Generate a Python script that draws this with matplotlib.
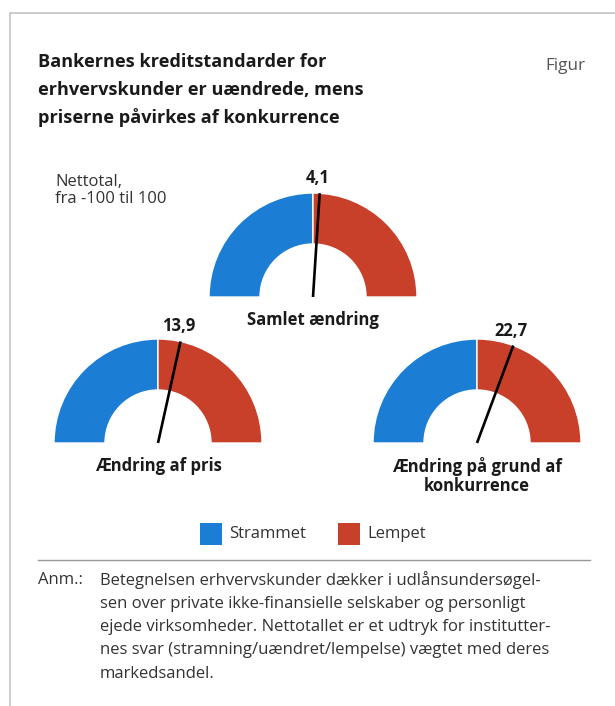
import matplotlib
matplotlib.use("Agg")
import matplotlib.pyplot as plt
from matplotlib.patches import Wedge
import numpy as np

plt.rcParams['font.family'] = ['Open Sans', 'DejaVu Sans']

# net balances, scale -100 (tightened) .. 100 (eased)
gauge_names = ["Samlet ændring", "Ændring af pris", "Ændring på grund af\nkonkurrence"]
net_values = [4.1, 13.9, 22.7]
legend_labels = ["Strammet", "Lempet"]

title_lines = ["Bankernes kreditstandarder for",
               "erhvervskunder er uændrede, mens",
               "priserne påvirkes af konkurrence"]
unit_lines = ["Nettotal,", "fra -100 til 100"]
note_lines = ["Betegnelsen erhvervskunder dækker i udlånsundersøgel-",
              "sen over private ikke-finansielle selskaber og personligt",
              "ejede virksomheder. Nettotallet er et udtryk for institutter-",
              "nes svar (stramning/uændret/lempelse) vægtet med deres",
              "markedsandel."]

BLUE = "#1c7dd4"
RED = "#c8402a"
DARK = "#1a1a1a"
GREY = "#333333"
W, H = 615, 706

# gauge centres (pixels from top-left), outer and inner radius
centres = [(313, 297), (158, 443), (477, 443)]
R_OUT, R_IN = 104, 53

fig = plt.figure(figsize=(W / 100, H / 100), dpi=100)
ax = fig.add_axes([0, 0, 1, 1])
ax.set_xlim(0, W)
ax.set_ylim(0, H)
ax.set_aspect('equal')
ax.axis('off')


def Y(y):
    return H - y


# frame
ax.plot([10, 10, W], [0, Y(13), Y(13)], color="#c4c4c4", lw=1.2)

for i, line in enumerate(title_lines):
    ax.text(38, Y(62 + 28 * i), line, fontsize=13.1, fontweight='bold',
            color=DARK, va='center', ha='left')
ax.text(545, Y(66), "Figur", fontsize=12.3, color="#555555", va='center')
for i, line in enumerate(unit_lines):
    ax.text(55, Y(182 + 17 * i), line, fontsize=12, color=GREY, va='center')

for (cx, cy), name, val in zip(centres, gauge_names, net_values):
    ax.add_patch(Wedge((cx, Y(cy)), R_OUT, 90, 180, width=R_OUT - R_IN,
                       facecolor=BLUE, edgecolor='white', lw=1.0))
    ax.add_patch(Wedge((cx, Y(cy)), R_OUT, 0, 90, width=R_OUT - R_IN,
                       facecolor=RED, edgecolor='white', lw=1.0))
    ang = np.radians(90 - val * 0.9)
    tx = cx + R_OUT * np.cos(ang)
    ty = Y(cy) + R_OUT * np.sin(ang)
    ax.plot([cx, tx], [Y(cy), ty], color='black', lw=1.9, solid_capstyle='butt')
    ax.text(tx - 2, ty + 6, f"{val:.1f}".replace('.', ','), fontsize=12,
            fontweight='bold', color=DARK, ha='center', va='bottom')
    for j, part in enumerate(name.split("\n")):
        ax.text(cx, Y(cy + 23 + 20 * j), part, fontsize=12, fontweight='bold',
                color=DARK, ha='center', va='center')

# legend
for x0, col, lab in zip([200, 338], [BLUE, RED], legend_labels):
    ax.add_patch(plt.Rectangle((x0, Y(545)), 22, 22, facecolor=col))
    ax.text(x0 + 29, Y(534), lab, fontsize=12, color=GREY, va='center')

ax.plot([38, 590], [Y(560), Y(560)], color="#999999", lw=1.0)

ax.text(38, Y(580), "Anm.:", fontsize=12, color=GREY, va='center')
for i, line in enumerate(note_lines):
    ax.text(100, Y(580 + 23.5 * i), line, fontsize=12, color=GREY, va='center')

fig.savefig("out.png", dpi=100)
